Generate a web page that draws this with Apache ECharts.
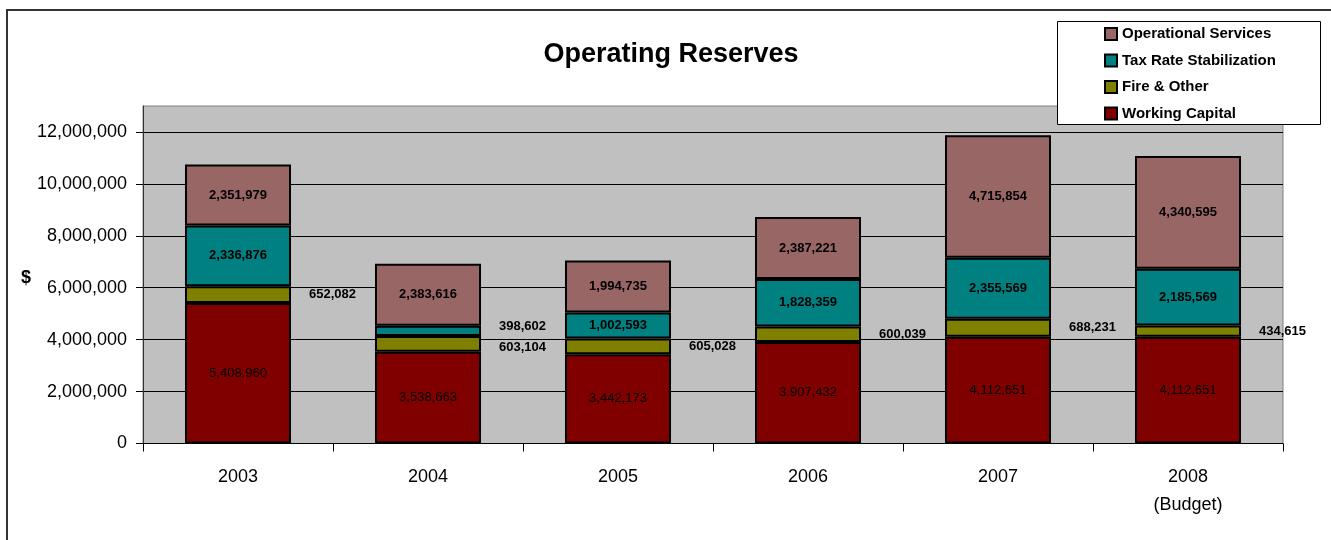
<!DOCTYPE html>
<html>
<head>
<meta charset="utf-8">
<script src="https://cdn.jsdelivr.net/npm/echarts@6/dist/echarts.min.js"></script>
<style>
html,body{margin:0;padding:0;background:#fff;}
#chart{width:1331px;height:540px;}
</style>
</head>
<body>
<div id="chart"></div>
<script>
const categories = ['2003', '2004', '2005', '2006', '2007', '2008\n(Budget)'];
const workingCapital = [5408960, 3538663, 3442173, 3907432, 4112651, 4112651];
const fireOther = [652082, 603104, 605028, 600039, 688231, 434615];
const taxRate = [2336876, 398602, 1002593, 1828359, 2355569, 2185569];
const operational = [2351979, 2383616, 1994735, 2387221, 4715854, 4340595];
const yMin = 0, yMax = 13000000, yStep = 2000000;

const FONT = '"Liberation Sans", Arial, Helvetica, sans-serif';
const fmt = v => Number(v).toLocaleString('en-US');
const SMALL = 500000;

const chart = echarts.init(document.getElementById('chart'));

const outsideLabel = (extraOffset) => ({
  position: 'right', distance: 18, offset: extraOffset || [0, 0]
});

function taxData() {
  return taxRate.map(v => v < SMALL
    ? { value: v, label: outsideLabel([0, -4]) }
    : v);
}
function fireData() {
  return fireOther.map((v, i) => taxRate[i] < SMALL
    ? { value: v, label: { offset: [0, 4] } }
    : v);
}

const baseItem = { borderColor: '#000', borderWidth: 2 };
const boldLabel = { show: true, fontFamily: FONT, fontSize: 13, fontWeight: 'bold', color: '#000', formatter: p => fmt(p.value) };

chart.setOption({
  animation: false,
  backgroundColor: '#fff',
  textStyle: { fontFamily: FONT },
  title: {
    text: 'Operating Reserves',
    left: 666, top: 36, textAlign: 'center',
    textStyle: { fontFamily: FONT, fontSize: 27, fontWeight: 'bold', color: '#000' }
  },
  graphic: [
    { type: 'rect', z: 0, shape: { x: 7, y: 10, width: 1400, height: 700 },
      style: { fill: 'none', stroke: '#333', lineWidth: 2 } },
    { type: 'rect', z: 3, shape: { x: 1057.5, y: 21.5, width: 263, height: 103 },
      style: { fill: '#fff', stroke: '#000', lineWidth: 1 } }
  ],
  legend: {
    orient: 'vertical', left: 1104, top: 26, z: 4, padding: 0,
    icon: 'rect', itemWidth: 12, itemHeight: 12, itemGap: 10.5,
    data: ['Operational Services', 'Tax Rate Stabilization', 'Fire & Other', 'Working Capital'],
    textStyle: { fontFamily: FONT, fontSize: 15, fontWeight: 'bold', color: '#000', lineHeight: 16 }
  },
  grid: {
    left: 143, right: 48, top: 106, bottom: 96.5,
    show: true, backgroundColor: '#C0C0C0', borderColor: '#808080', borderWidth: 1
  },
  xAxis: {
    type: 'category', data: categories,
    axisLine: { lineStyle: { color: '#000', width: 1 } },
    axisTick: { show: true, length: 8, interval: 0, lineStyle: { color: '#000' } },
    axisLabel: { interval: 0, margin: 20, fontFamily: FONT, fontSize: 18, color: '#000', lineHeight: 28 },
    splitLine: { show: false }
  },
  yAxis: {
    type: 'value', min: yMin, max: yMax, interval: yStep,
    name: '$', nameLocation: 'middle', nameRotate: 0, nameGap: 111,
    nameTextStyle: { fontFamily: FONT, fontSize: 18, fontWeight: 'bold', color: '#000', lineHeight: 6, verticalAlign: 'top' },
    axisLine: { show: true, lineStyle: { color: '#333', width: 1 } },
    axisTick: { show: true, length: 7, lineStyle: { color: '#000' } },
    axisLabel: { margin: 16, fontFamily: FONT, fontSize: 18, color: '#000', showMaxLabel: false, formatter: v => fmt(v) },
    splitLine: { show: true, showMaxLine: false, lineStyle: { color: '#000', width: 1 } }
  },
  series: [
    { name: 'Working Capital', type: 'bar', stack: 'r', barWidth: '55.8%', data: workingCapital,
      itemStyle: Object.assign({ color: '#800000' }, baseItem),
      label: Object.assign({}, boldLabel, { position: 'inside', fontWeight: 'normal', color: '#000' }) },
    { name: 'Fire & Other', type: 'bar', stack: 'r', data: fireData(),
      itemStyle: Object.assign({ color: '#808000' }, baseItem),
      label: Object.assign({}, boldLabel, { position: 'right', distance: 18 }) },
    { name: 'Tax Rate Stabilization', type: 'bar', stack: 'r', data: taxData(),
      itemStyle: Object.assign({ color: '#008080' }, baseItem),
      label: Object.assign({}, boldLabel, { position: 'inside' }) },
    { name: 'Operational Services', type: 'bar', stack: 'r', data: operational,
      itemStyle: Object.assign({ color: '#996666' }, baseItem),
      label: Object.assign({}, boldLabel, { position: 'inside' }) }
  ]
});
</script>
</body>
</html>
